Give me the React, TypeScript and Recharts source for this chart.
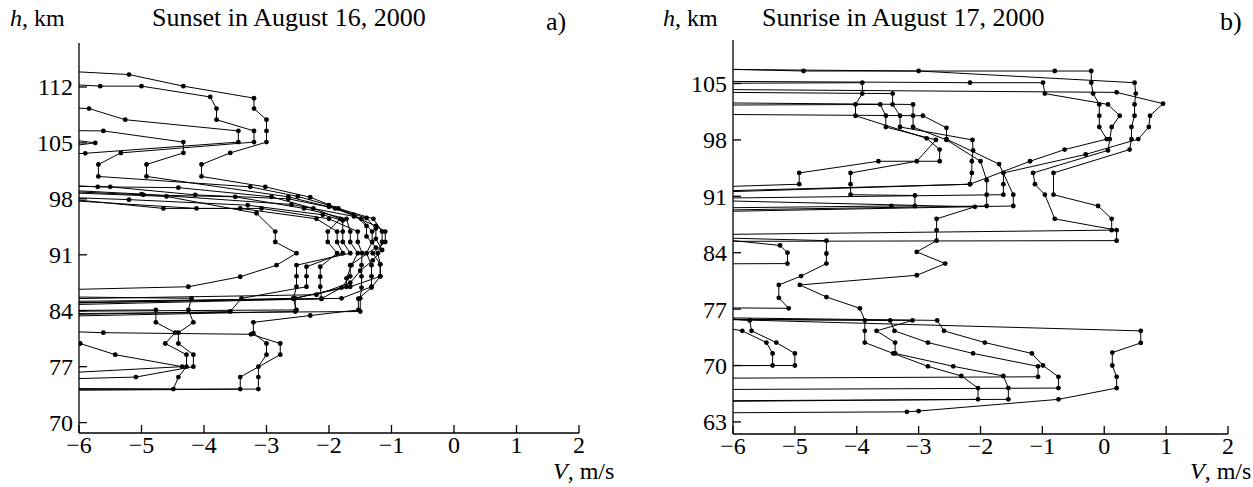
import React from 'react';
import { ScatterChart, Scatter, XAxis, YAxis } from 'recharts';

// ---- Panel a) Sunset in August 16, 2000 : profiles [V (m/s), h (km)] ----
const a01 = [[-7,114.3],[-5.2,113.55],[-4.33,112.1],[-3.2,110.6],[-3.2,109.3],[-3.0,107.9],[-3.0,106.5],[-3.0,105.1],[-3.58,103.75],[-4.04,102.3],[-4.04,100.8],[-3.02,99.5],[-2.3,98.2],[-1.85,96.8],[-1.29,95.5],[-1.15,93.9],[-1.15,92.6],[-1.22,91.2],[-1.18,89.8],[-1.18,88.3],[-1.32,86.9],[-1.53,85.5],[-1.53,84.1],[-2.3,83.4],[-3.21,82.55],[-3.21,81.2],[-3.0,79.9],[-3.0,78.5],[-3.13,77.0],[-3.13,75.7],[-3.13,74.2],[-7,74.0]];
const a02 = [[-7,112.7],[-5.66,112.1],[-5.0,112.1],[-3.9,110.75],[-3.8,109.3],[-3.8,107.9],[-3.2,106.5],[-3.2,105.1],[-5.33,103.75],[-5.69,102.3],[-5.69,100.8],[-3.26,99.5],[-2.5,98.3],[-2.0,97.2],[-1.6,96.0],[-1.4,94.6],[-1.4,93.3],[-1.25,91.9],[-1.66,89.7],[-1.66,88.3],[-1.8,86.9],[-2.12,85.5],[-7,85.1]];
const a03 = [[-7,109.6],[-5.84,109.3],[-5.26,107.9],[-3.45,106.5],[-3.45,105.1],[-5.9,103.7],[-7,103.3]];
const a04 = [[-7,106.6],[-5.61,106.5],[-4.33,105.1],[-4.33,103.75],[-4.92,102.3],[-4.92,100.8],[-2.65,98.25],[-2.0,97.0],[-1.4,95.6],[-1.25,94.3],[-1.25,93.0],[-1.15,91.6],[-1.3,90.3],[-1.5,89.0],[-1.66,87.5],[-2.2,86.0],[-7,85.4]];
const a05 = [[-7,106.3],[-5.74,105.0],[-7,103.8]];
const a06 = [[-7,100.0],[-5.7,99.5],[-4.41,99.4],[-2.92,98.25],[-2.25,96.8],[-1.82,95.5],[-2.02,93.9],[-2.02,92.6],[-1.87,91.2],[-2.14,89.5],[-2.14,88.25],[-2.14,87.0],[-2.12,85.5],[-7,84.6]];
const a07 = [[-7,99.7],[-5.5,99.5],[-4.14,98.5],[-2.65,98.0],[-1.9,96.8],[-1.48,95.5],[-1.31,93.9],[-1.31,92.6],[-1.4,91.2],[-1.32,89.7],[-1.32,88.3],[-1.32,87.0],[-1.8,85.55],[-7,84.9]];
const a08 = [[-7,99.2],[-4.97,98.5],[-3.5,98.25],[-2.4,96.8],[-1.72,95.5],[-1.66,93.9],[-1.66,92.6],[-1.54,91.2],[-1.64,89.7],[-1.72,88.05],[-1.72,87.0],[-2.54,85.55],[-2.54,83.9],[-7,83.2]];
const a09 = [[-7,98.6],[-4.65,96.8],[-3.42,96.8],[-2.2,95.5],[-1.87,93.9],[-1.87,92.6],[-1.78,91.2],[-2.36,89.5],[-2.36,88.3],[-2.36,87.0],[-3.4,85.55],[-3.58,83.9],[-7,83.4]];
const a10 = [[-7,98.2],[-4.12,96.8],[-3.08,96.8],[-2.0,95.5],[-1.54,93.9],[-1.54,92.6],[-1.47,91.2],[-1.48,89.7],[-1.48,88.3],[-1.48,86.9],[-1.5,85.55],[-1.5,83.9],[-7,83.6]];
const a11 = [[-7,99.0],[-4.6,98.3],[-3.16,96.2],[-2.86,93.9],[-2.86,92.6],[-2.52,91.2],[-2.84,89.7],[-3.42,88.25],[-4.25,87.0],[-7,86.5]];
const a12 = [[-7,99.4],[-5.0,98.6],[-2.6,97.3],[-1.6,95.8],[-1.25,94.6],[-1.1,93.9],[-1.1,92.6],[-1.3,91.2],[-1.18,89.8],[-1.18,88.3],[-1.66,87.0],[-2.57,85.55],[-7,84.8]];
const a13 = [[-7,98.4],[-5.2,97.9],[-3.3,97.2],[-2.1,96.0],[-1.78,95.3],[-1.78,93.9],[-1.78,92.6],[-1.66,91.2],[-2.52,89.7],[-2.52,88.3],[-2.52,87.0],[-2.57,85.5],[-2.52,84.1],[-7,83.9]];
const a14 = [[-7,84.0],[-4.77,84.1],[-4.77,82.55],[-4.46,81.25],[-4.62,79.9],[-4.28,78.5],[-4.28,77.0],[-4.41,75.7],[-4.49,74.2],[-7,74.3]];
const a15 = [[-7,85.8],[-4.2,85.55],[-4.25,84.1],[-4.17,82.55],[-4.41,81.25],[-4.41,79.9],[-4.17,78.5],[-4.17,77.0],[-5.09,75.7],[-7,75.3]];
const a16 = [[-7,81.6],[-5.61,81.25],[-3.25,81.05],[-2.78,79.9],[-2.78,78.5],[-3.42,75.7],[-3.42,74.2],[-7,74.15]];
const a17 = [[-7,80.3],[-5.98,79.9],[-5.42,78.5],[-4.35,77.0],[-7,75.9]];
const sunsetProfiles = [a01,a02,a03,a04,a05,a06,a07,a08,a09,a10,a11,a12,a13,a14,a15,a16,a17];

// ---- Panel b) Sunrise in August 17, 2000 ----
const b01 = [[-7,106.95],[-4.86,106.55],[-0.8,106.55],[-0.21,106.55],[-0.21,105.1],[-0.18,103.75],[-0.08,102.4],[-0.08,101.0],[-0.08,99.6],[0.04,98.1],[-0.64,96.8],[-1.2,95.35],[-2.17,92.5],[-7,91.35]];
const b02 = [[-7,106.8],[-3.0,106.55],[0.49,105.1],[0.51,103.75],[0.49,102.4],[0.49,101.0],[0.44,99.6],[0.44,98.1],[0.41,96.8],[-0.82,93.9],[-0.82,91.2],[-0.1,89.8],[0.12,88.2],[0.12,86.8],[-7,86.2]];
const b03 = [[-7,105.3],[-2.17,105.1],[-0.99,105.1],[-0.96,103.75],[0.06,102.4],[0.25,101.0],[0.12,99.6],[0.09,98.1],[0.06,96.7],[-1.15,93.9],[-1.12,92.5],[-0.96,91.2],[-0.8,88.2],[0.2,86.8],[0.2,85.5],[-7,85.4]];
const b04 = [[-7,105.0],[-3.91,105.1],[-3.91,103.75],[-4.02,102.4],[-4.02,101.0],[-2.87,98.2],[-2.66,96.8],[-2.66,95.35],[-3.65,95.35],[-4.93,93.9],[-4.93,92.5],[-7,92.0]];
const b05 = [[-7,103.95],[-3.42,103.75],[-3.42,102.4],[-3.3,101.0],[-3.3,99.6],[-2.13,98.0],[-2.12,96.7],[-2.14,95.35],[-2.14,93.9],[-2.17,92.5],[-7,91.5]];
const b06 = [[-7,102.65],[-3.09,102.4],[-3.09,101.0],[-3.09,99.6],[-2.55,98.0],[-2.0,95.35],[-1.9,93.0],[-1.9,91.2],[-1.9,89.8],[-7,89.2]];
const b07 = [[-7,102.3],[-3.62,102.4],[-3.53,101.0],[-3.53,99.6],[-2.72,98.0],[-3.03,95.35],[-4.1,93.9],[-4.1,92.5],[-4.1,91.2],[-3.06,91.1],[-3.06,89.8],[-3.44,89.8],[-7,89.5]];
const b08 = [[-7,101.2],[-2.93,101.0],[-2.55,99.5],[-2.55,98.1],[-1.7,95.0],[-1.47,91.2],[-1.47,89.8],[-7,89.0]];
const b09 = [[-7,90.6],[-2.09,89.7],[-2.71,88.2],[-2.71,86.8],[-2.71,85.5],[-3.03,84.1],[-2.57,82.65],[-3.03,81.2],[-4.92,80.0],[-4.49,78.5],[-3.95,77.1],[-3.87,75.6],[-3.87,74.3],[-3.87,72.85],[-3.41,71.5],[-2.85,69.9],[-2.31,68.7],[-2.04,67.2],[-2.04,65.8],[-7,65.5]];
const b10 = [[-7,86.0],[-4.49,85.5],[-4.49,83.9],[-4.49,82.65],[-4.9,81.1],[-5.26,80.0],[-5.26,78.4],[-5.1,77.1],[-7,77.2]];
const b11 = [[-7,86.3],[-5.24,84.9],[-5.12,84.0],[-5.12,82.65],[-7,82.6]];
const b12 = [[-7,75.9],[0.59,74.3],[0.59,72.8],[0.13,71.6],[0.13,70.0],[0.2,68.6],[0.2,67.2],[-0.74,65.8],[-3.0,64.35],[-3.19,64.25],[-7,64.1]];
const b13 = [[-7,76.0],[-2.7,75.6],[-2.59,74.3],[-1.93,72.85],[-1.17,71.5],[-0.99,70.0],[-0.74,68.6],[-0.74,67.2],[-7,67.0]];
const b14 = [[-7,75.8],[-3.46,75.6],[-3.39,74.3],[-2.85,72.85],[-2.12,71.5],[-1.07,69.9],[-1.07,68.6],[-7,68.4]];
const b15 = [[-7,75.75],[-3.1,75.6],[-3.68,74.3],[-3.38,72.85],[-3.38,71.5],[-2.44,69.9],[-1.63,68.7],[-1.55,67.2],[-1.55,65.8],[-7,65.6]];
const b16 = [[-7,76.3],[-5.73,75.6],[-5.7,74.3],[-5.3,72.85],[-5.0,71.5],[-5.0,70.0],[-7,70.0]];
const b17 = [[-7,75.9],[-5.85,74.3],[-5.46,72.85],[-5.36,71.5],[-5.36,70.0],[-7,69.95]];
const b18 = [[-7,104.3],[0.2,103.9],[0.95,102.5],[0.74,101.0],[0.72,99.6],[0.55,98.1],[-0.3,96.2],[-1.63,93.9],[-1.63,92.5],[-1.63,91.2],[-7,90.7]];
const sunriseProfiles = [b01,b02,b03,b04,b05,b06,b07,b08,b09,b10,b11,b12,b13,b14,b15,b16,b17,b18];

const xTicks = [-6, -5, -4, -3, -2, -1, 0, 1, 2];
const yTicksA = [70, 77, 84, 91, 98, 105, 112];
const yTicksB = [63, 70, 77, 84, 91, 98, 105];

const X_MIN = -6;
const FONT = '"Liberation Serif", "DejaVu Serif", serif';

const toPts = (arr: number[][]) => arr.map(([v, h]) => ({ v, h }));
const fmt = (t: number) => (t < 0 ? '\u2212' + Math.abs(t) : String(t));

const Dot = (props: any) => {
  const { cx, cy, payload } = props;
  if (payload == null || payload.v < X_MIN || cx == null || cy == null) return <g />;
  return <circle cx={cx} cy={cy} r={2.4} fill="#000" />;
};

const tickStyle = { fontFamily: FONT, fontSize: 24, fill: '#000' };

function Panel(props: { profiles: number[][][]; yDomain: [number, number]; yTicks: number[]; width: number; margin: any }) {
  const { profiles, yDomain, yTicks, width, margin } = props;
  return (
    <ScatterChart width={width} height={487} margin={margin}>
      <XAxis
        type="number"
        dataKey="v"
        domain={[-6, 2]}
        ticks={xTicks}
        allowDataOverflow
        tickFormatter={fmt}
        height={30}
        tickSize={-8}
        tickMargin={11}
        tick={tickStyle}
        axisLine={{ stroke: '#000', strokeWidth: 1.3 }}
        tickLine={{ stroke: '#000', strokeWidth: 1.3 }}
        interval={0}
      />
      <YAxis
        type="number"
        dataKey="h"
        domain={yDomain}
        ticks={yTicks}
        allowDataOverflow
        width={40}
        tickSize={-8}
        tickMargin={14}
        tick={tickStyle}
        axisLine={{ stroke: '#000', strokeWidth: 1.3 }}
        tickLine={{ stroke: '#000', strokeWidth: 1.3 }}
        interval={0}
      />
      {profiles.map((p, i) => (
        <Scatter
          key={i}
          data={toPts(p)}
          line={{ stroke: '#000', strokeWidth: 1 }}
          lineType="joint"
          shape={Dot}
          fill="#000"
          isAnimationActive={false}
        />
      ))}
    </ScatterChart>
  );
}

export default function App() {
  return (
    <div style={{ position: 'absolute', left: 0, top: 0, width: 1253, height: 487, background: '#fff' }}>
      <div style={{ position: 'absolute', left: 0, top: 0 }}>
        <Panel
          profiles={sunsetProfiles}
          yDomain={[68.7, 117.5]}
          yTicks={yTicksA}
          width={640}
          margin={{ top: 43, left: 39, right: 61, bottom: 24 }}
        />
      </div>
      <div style={{ position: 'absolute', left: 640, top: 0 }}>
        <Panel
          profiles={sunriseProfiles}
          yDomain={[61.5, 110.4]}
          yTicks={yTicksB}
          width={613}
          margin={{ top: 40, left: 53, right: 25, bottom: 23 }}
        />
      </div>
      <svg width={1253} height={487} style={{ position: 'absolute', left: 0, top: 0, pointerEvents: 'none' }}>
        <g fontFamily={FONT} fill="#000">
          <text x={10} y={26} fontSize={24}><tspan fontStyle="italic">h</tspan>, km</text>
          <text x={152} y={26} fontSize={26}>Sunset in August 16, 2000</text>
          <text x={546} y={30} fontSize={26}>a)</text>
          <text x={553} y={479} fontSize={24}><tspan fontStyle="italic">V</tspan>,  m/s</text>
          <text x={663} y={26} fontSize={24}><tspan fontStyle="italic">h</tspan>, km</text>
          <text x={762} y={26} fontSize={26}>Sunrise in August 17, 2000</text>
          <text x={1220} y={30} fontSize={26}>b)</text>
          <text x={1190} y={479} fontSize={24}><tspan fontStyle="italic">V</tspan>,  m/s</text>
        </g>
      </svg>
    </div>
  );
}
